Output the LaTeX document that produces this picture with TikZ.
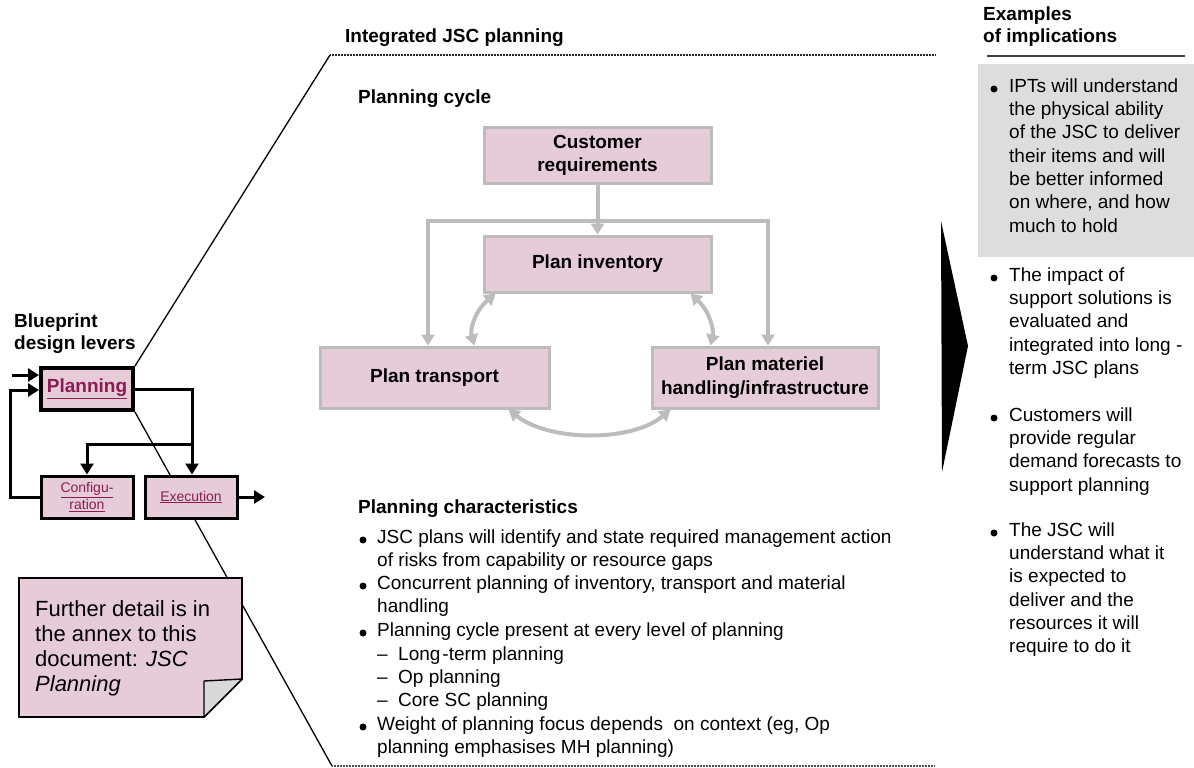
\documentclass[tikz,border=0pt]{standalone}
\usepackage{fontspec}
\setmainfont{Liberation Sans}
\usetikzlibrary{arrows.meta}
\definecolor{cpink}{RGB}{230,204,217}
\definecolor{cgray}{RGB}{188,188,188}
\definecolor{clink}{RGB}{140,28,82}
\definecolor{cbox}{RGB}{221,221,221}
\definecolor{cfold}{RGB}{217,217,217}
\pgfdeclarelayer{bg}
\pgfsetlayers{bg,main}
\begin{document}
\begin{tikzpicture}[x=1pt,y=-1pt,
  every node/.style={inner sep=0pt, font=\fontsize{19}{23.3}\selectfont},
  txt/.style={anchor=north west, align=left},
  head/.style={anchor=base west, font=\fontsize{19}{23.3}\selectfont\bfseries},
  cycbox/.style={draw=cgray, line width=3pt, fill=cpink, align=center, font=\fontsize{19}{23.3}\selectfont\bfseries},
  garrow/.style={draw=cgray, line width=4pt, -{Triangle[length=11pt,width=13pt]}},
  gline/.style={draw=cgray, line width=4pt},
  gdarrow/.style={draw=cgray, line width=4pt, {Triangle[length=11pt,width=13pt]}-{Triangle[length=11pt,width=13pt]}},
  lever/.style={draw=black, fill=cpink, line width=3pt, align=center, text=clink},
  barrow/.style={draw=black, line width=3pt, -{Triangle[length=11pt,width=13pt]}},
  zoomline/.style={draw=black, line width=1.3pt},
  dotline/.style={draw=black!85, line width=1.8pt, dash pattern=on 1pt off 0.5pt},
  bul/.style={fill=black, circle, minimum size=7pt}
]
\useasboundingbox (0,0) rectangle (1194,768);

% ---------- headings ----------
\node[head] (hInt) at (345,43) {Integrated JSC planning};
\node[head] (hCyc) at (358,103) {Planning cycle};
\node[head] (hChar) at (358,513) {Planning characteristics};
\node[head] (hEx1) at (983,21) {Examples};
\node[head] (hEx2) at (983,43) {of implications};
\node[head] (hBp1) at (14,327) {Blueprint};
\node[head] (hBp2) at (14,349) {design levers};

\coordinate (topL) at (330,55);
\coordinate (topR) at (935,55);
\coordinate (botL) at (332,766);
\coordinate (botR) at (935,766);
\draw[dotline] (topL) -- (topR);
\draw[dotline, line width=1.3pt, draw=black!70] (botL) -- (botR);
\coordinate (exL) at (987,56);
\coordinate (exR) at (1185,56);
\draw[draw=black!75, line width=2.2pt] (exL) -- (exR);

% ---------- planning cycle ----------
\node[cycbox, minimum width=227pt, minimum height=56pt] (cust) at (597.5,155) {Customer\\requirements};
\node[cycbox, minimum width=227pt, minimum height=56pt] (inv) at (597.5,264) {Plan inventory};
\node[cycbox, minimum width=229pt, minimum height=61pt] (trans) at (434.5,377.5) {Plan transport};
\node[cycbox, minimum width=226pt, minimum height=61pt] (mat) at (765,377.5) {Plan materiel\\handling/infrastructure};

\draw[garrow] (cust.south) -- (inv.north);
\coordinate (hl) at (428,221);
\coordinate (hr) at (768,221);
\draw[gline, line cap=rect] (hl) -- (hr);
\draw[garrow] (hl) -- (hl |- trans.north);
\draw[garrow] (hr) -- (hr |- mat.north);
\draw[gdarrow] ([xshift=13pt]inv.south west) .. controls (474,312) and (470,330) .. ([xshift=156pt]trans.north west);
\draw[gdarrow] ([xshift=-22pt]inv.south east) .. controls (710,312) and (714,330) .. ([xshift=60pt]mat.north west);
\draw[gdarrow] ([xshift=190pt]trans.south west) .. controls (550,442) and (632,442) .. ([xshift=20pt]mat.south west);

% ---------- design levers ----------
\node[lever, line width=4pt, minimum width=92pt, minimum height=42pt, font=\fontsize{19}{23.3}\selectfont\bfseries] (plan) at (87,389) {\underline{Planning}};
\node[lever, minimum width=92pt, minimum height=42pt, font=\fontsize{14}{16.5}\selectfont] (conf) at (87,497) {\underline{Configu-}\\\underline{ration}};
\node[lever, minimum width=92pt, minimum height=42pt, font=\fontsize{14}{16}\selectfont] (exec) at (191,497) {\underline{Execution}};

\coordinate (inL) at (12,375);
\draw[barrow] (inL) -- (inL -| plan.west);
\coordinate (loopX) at (10,390);
\draw[barrow] (conf.west) -| (loopX) -- (loopX -| plan.west);
\coordinate (rtX) at (192,389);
\draw[barrow] (plan.east |- rtX) -| (rtX |- exec.north);
\coordinate (brX) at (192,444);
\draw[barrow] (brX) -| (conf.north);
\coordinate (outR) at (265,497);
\draw[barrow] (exec.east) -- (outR);

\begin{pgfonlayer}{bg}
  \draw[zoomline] (plan.north east) -- (topL);
  \draw[zoomline] (plan.south east) -- (botL);
\end{pgfonlayer}

% ---------- note ----------
\draw[fill=cpink, line width=1.8pt] (19,578) -- (242,578) -- (242,679) -- (204,717) -- (19,717) -- cycle;
\draw[fill=cfold, line width=1.4pt, line join=round] (204,681) -- (242,679) -- (204,717) -- cycle;
\node[txt, font=\fontsize{22}{25}\selectfont] (note) at (35,598.5) {\strut Further detail is in\\the annex to this\\document: \textit{JSC}\\\textit{Planning}};

% ---------- planning characteristics ----------
\node[bul] (b1) at (363,540) {};
\node[txt] (c1) at (377,526.7) {\strut JSC plans will identify and state required management action\\of risks from capability or resource gaps};
\node[bul] (b2) at (363,586) {};
\node[txt] (c2) at (377,572.7) {\strut Concurrent planning of inventory, transport and material\\handling};
\node[bul] (b3) at (363,633) {};
\node[txt] (c3) at (377,619.7) {\strut Planning cycle present at every level of planning};
\node[txt] (c3s) at (377,643.7) {\strut\makebox[21pt][l]{--}Long\kern2pt-term planning\\\makebox[21pt][l]{--}Op planning\\\makebox[21pt][l]{--}Core SC planning};
\node[bul] (b4) at (363,727) {};
\node[txt] (c4) at (377,713.7) {\strut Weight of planning focus depends\ \ on context (eg, Op\\planning emphasises MH planning)};

% ---------- arrow triangle ----------
\fill[black] (941,221) -- (968,346) -- (942,472) -- cycle;

% ---------- implications ----------
\fill[cbox] (978,64) rectangle (1194,257);
\node[bul] (r1b) at (994,89) {};
\node[txt] (r1) at (1009,75.7) {\strut IPTs will understand\\the physical ability\\of the JSC to deliver\\their items and will\\be better informed\\on where, and how\\much to hold};
\node[bul] (r2b) at (994,278) {};
\node[txt] (r2) at (1009,264.7) {\strut The impact of\\support solutions is\\evaluated and\\integrated into long -\\term JSC plans};
\node[bul] (r3b) at (994,418) {};
\node[txt] (r3) at (1009,404.7) {\strut Customers will\\provide regular\\demand forecasts to\\support planning};
\node[bul] (r4b) at (994,533) {};
\node[txt] (r4) at (1009,519.7) {\strut The JSC will\\understand what it\\is expected to\\deliver and the\\resources it will\\require to do it};
\end{tikzpicture}
\end{document}
